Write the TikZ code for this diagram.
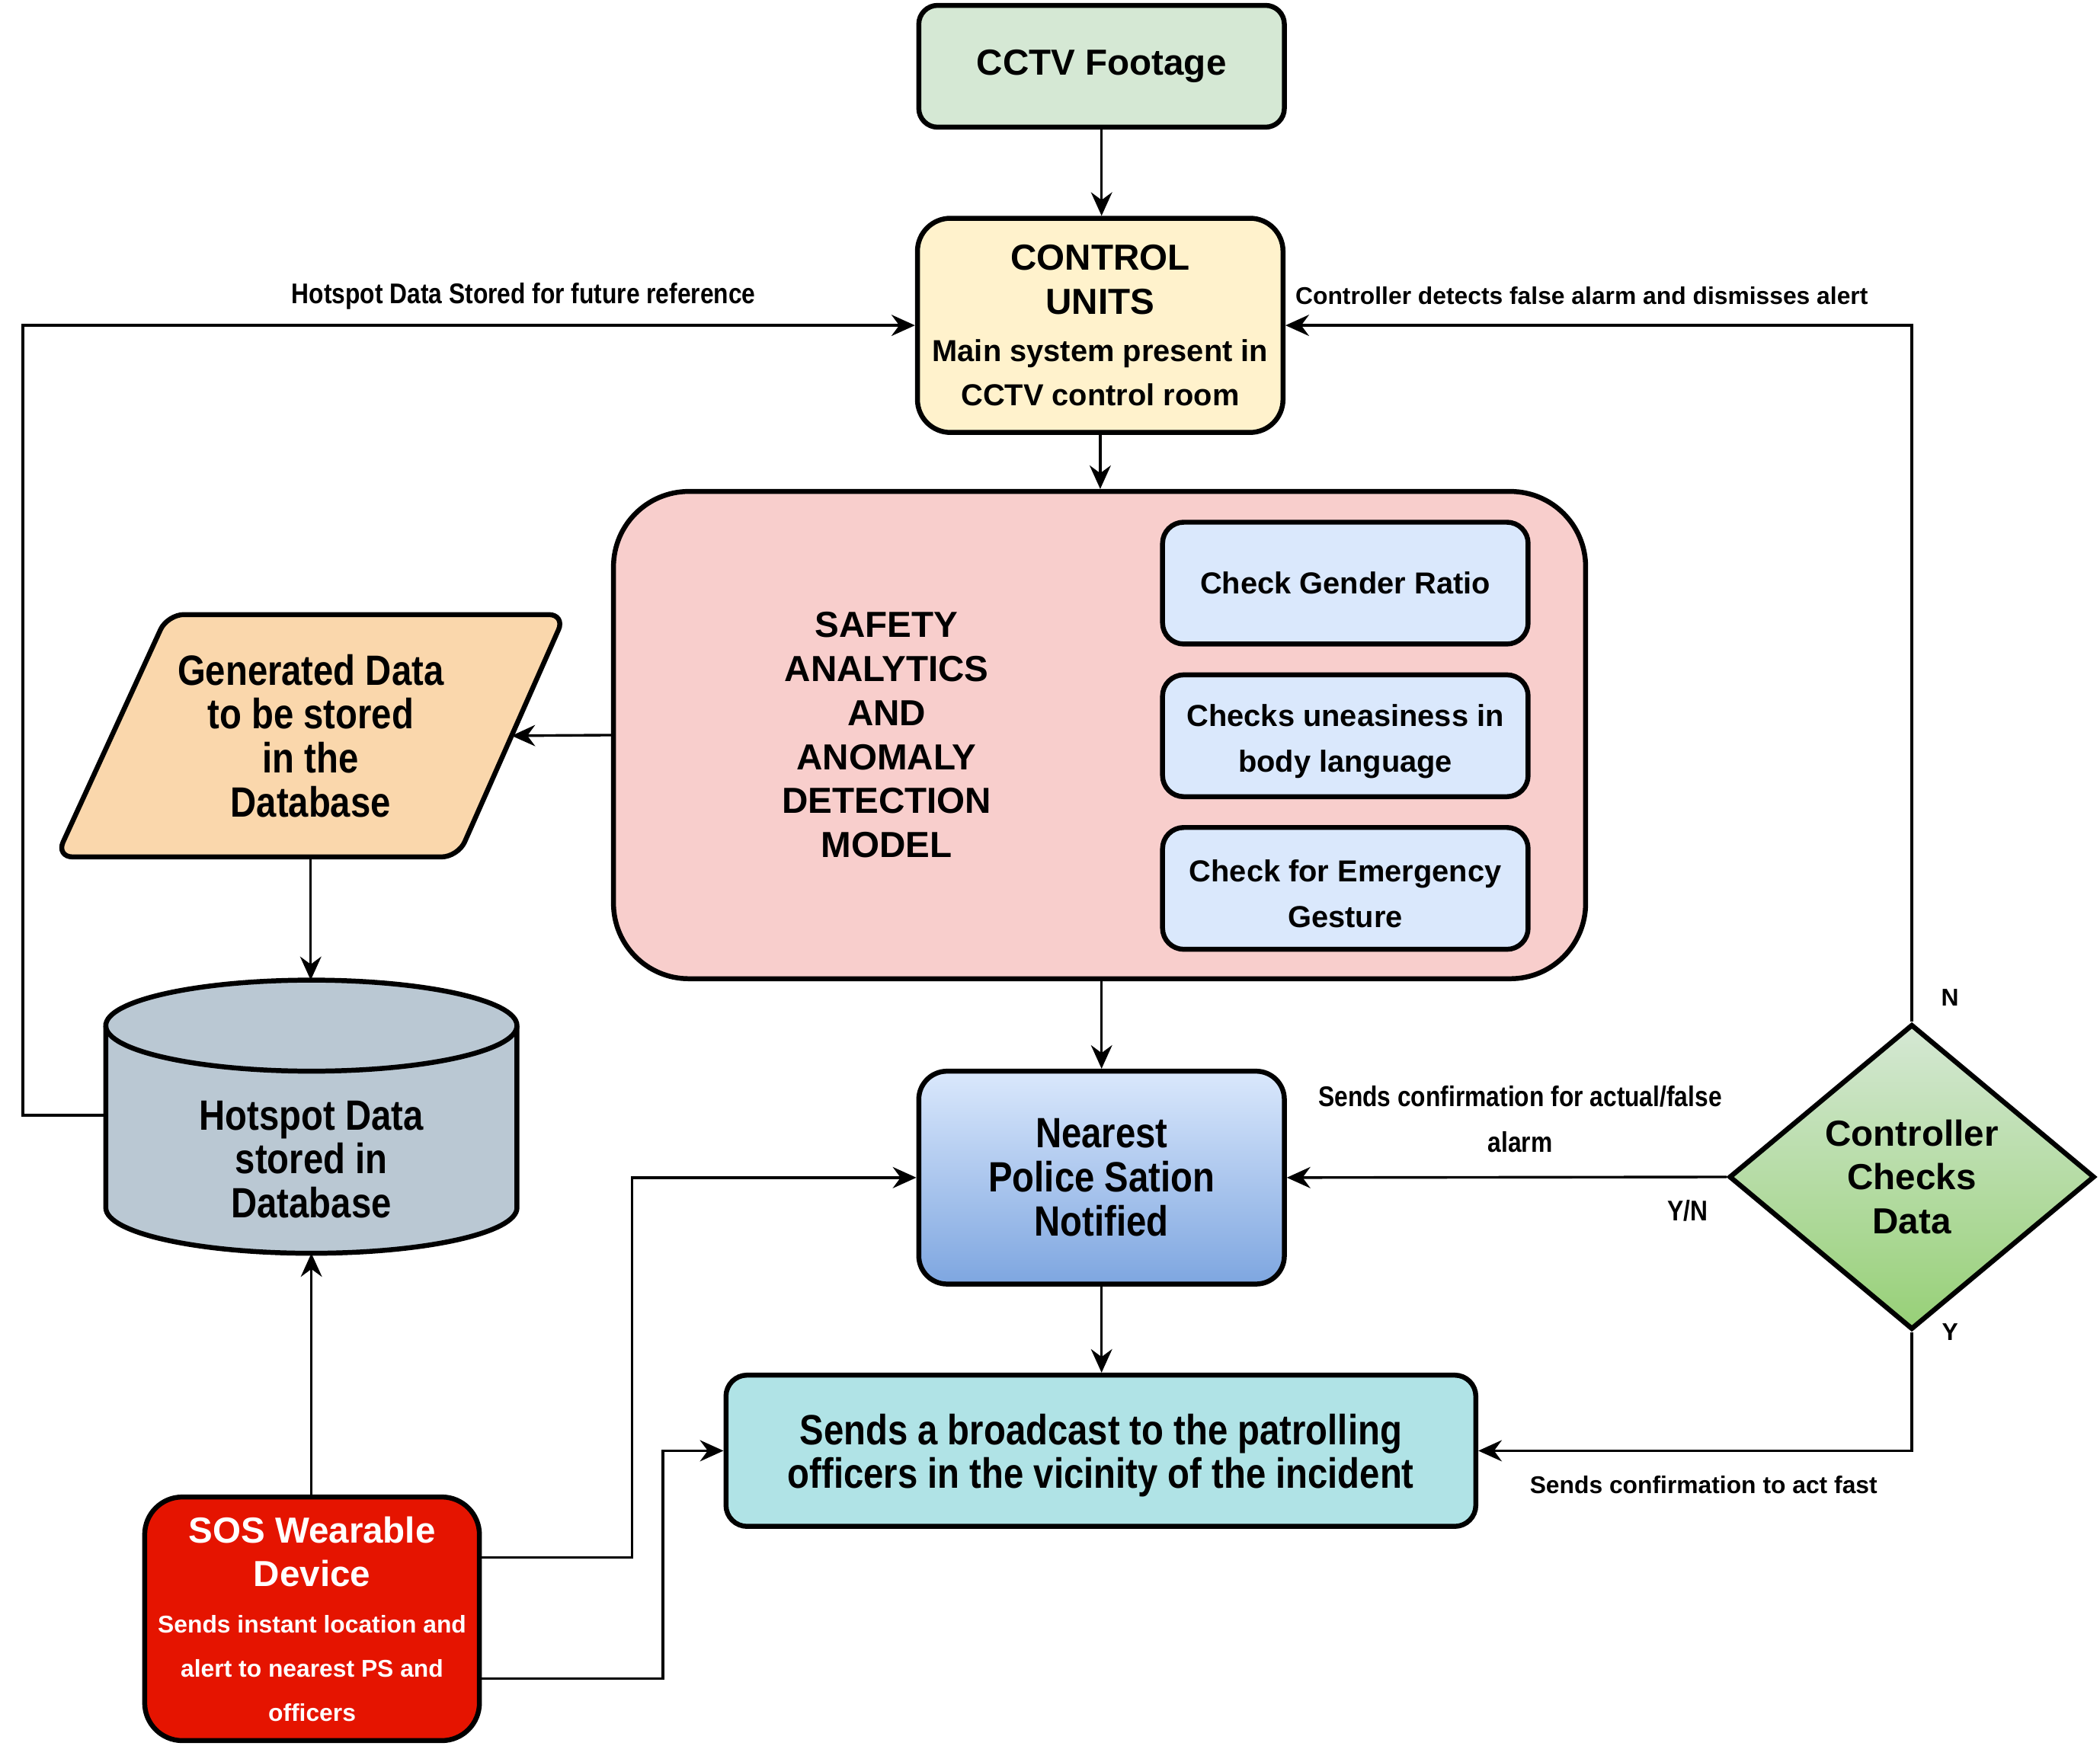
\documentclass[tikz,border=0pt]{standalone}
\usepackage{fontspec}
\setmainfont{Liberation Sans}
\newfontfamily\narrowfam{Liberation Sans}[FakeStretch=0.85]
\usetikzlibrary{arrows.meta,shapes.geometric}
\newcommand\FtBig{\bfseries\fontsize{15.4}{18.7}\selectfont}
\newcommand\FtNBig{\narrowfam\bfseries\fontsize{18}{18.7}\selectfont}
\newcommand\FtMed{\bfseries\fontsize{12.9}{19.3}\selectfont}
\newcommand\FtSmall{\bfseries\fontsize{10.3}{18.7}\selectfont}
\newcommand\FtNSmall{\narrowfam\bfseries\fontsize{12.1}{19.3}\selectfont}
\newcommand\DownStrut{\rule{0pt}{14pt}}
\definecolor{cctvc}{HTML}{D5E8D4}
\definecolor{ctrlc}{HTML}{FFF2CC}
\definecolor{safec}{HTML}{F8CECC}
\definecolor{chkc}{HTML}{DAE8FC}
\definecolor{gdc}{HTML}{FAD7AC}
\definecolor{cylc}{HTML}{BAC8D3}
\definecolor{neartop}{HTML}{DAE8FC}
\definecolor{nearbot}{HTML}{7EA6E0}
\definecolor{bcc}{HTML}{B0E3E6}
\definecolor{sosc}{HTML}{E51400}
\definecolor{diatop}{HTML}{D5E8D4}
\definecolor{diabot}{HTML}{97D077}
\tikzset{
  box/.style={draw, line width=2.1pt, align=center, inner sep=0pt, text=black},
  arr/.style={line width=1.1pt, -{Stealth[length=10pt,width=9pt,inset=3.3pt]}},
  lbl/.style={align=center, inner sep=0pt, text=black},
}
\begin{document}
\begin{tikzpicture}[x=0.02cm,y=0.02cm]
\useasboundingbox (0,0) rectangle (1568,-1304);

% boxes
\node[box, fill=cctvc, rounded corners=8pt, minimum width=5.46cm, minimum height=1.82cm, font=\FtBig] (cctv) at (822.5,-49.5) {CCTV Footage};
\node[box, fill=ctrlc, rounded corners=14pt, minimum width=5.46cm, minimum height=3.2cm, font=\FtBig] (ctrl) at (821.5,-243)
  {CONTROL\\UNITS\\[1.5pt]\FtMed Main system present in\\\FtMed CCTV control room};
\node[box, fill=safec, rounded corners=32pt, minimum width=14.52cm, minimum height=7.28cm] (safety) at (821,-549) {};
\node[lbl, font=\FtBig] (safetytxt) at (662,-549) {SAFETY\\ANALYTICS\\AND\\ANOMALY\\DETECTION\\MODEL};
\node[box, fill=chkc, rounded corners=9pt, minimum width=5.46cm, minimum height=1.82cm, font=\FtMed] (chk1) at (1004.5,-435.5) {Check Gender Ratio};
\node[box, fill=chkc, rounded corners=9pt, minimum width=5.46cm, minimum height=1.82cm, font=\FtMed] (chk2) at (1004.5,-549.5) {\DownStrut Checks uneasiness in\\body language};
\node[box, fill=chkc, rounded corners=9pt, minimum width=5.46cm, minimum height=1.82cm, font=\FtMed] (chk3) at (1004.5,-663.5) {\DownStrut Check for Emergency\\Gesture};

% parallelogram
\draw[line width=2.1pt, fill=gdc, rounded corners=7pt] (125,-459) -- (422,-459) -- (342,-640) -- (42,-640) -- cycle;
\node[lbl, font=\FtNBig] (gd) at (232,-549.5) {Generated Data\\to be stored\\in the\\Database};
\coordinate (gdE) at (382,-549.5);
\coordinate (gdS) at (232,-640);

% cylinder
\draw[line width=2.1pt, fill=cylc] (79,-766) -- (79,-902) arc[start angle=180, end angle=360, x radius=153.5, y radius=34]
  -- (386,-766) arc[start angle=0, end angle=180, x radius=153.5, y radius=34] -- cycle;
\draw[line width=2.1pt] (79,-766) arc[start angle=180, end angle=360, x radius=153.5, y radius=34];
\node[lbl, font=\FtNBig] (hot) at (232.5,-866) {Hotspot Data\\stored in\\Database};
\coordinate (hottop) at (232,-732);
\coordinate (hotbot) at (232.5,-936);
\coordinate (hotleft) at (79,-833);

\node[box, top color=neartop, bottom color=nearbot, rounded corners=12pt, minimum width=5.46cm, minimum height=3.18cm, font=\FtNBig] (near) at (822.5,-879.5)
  {Nearest\\Police Sation\\Notified};
\node[box, fill=bcc, rounded corners=9pt, minimum width=11.2cm, minimum height=2.26cm, font=\FtNBig] (bcast) at (822,-1083.5)
  {\rule{0pt}{17pt}Sends a broadcast to the patrolling\\officers in the vicinity of the incident};
\node[box, fill=sosc, text=white, rounded corners=16pt, minimum width=5cm, minimum height=3.64cm, font=\FtBig] (sos) at (233,-1209)
  {SOS Wearable\\Device\\[1pt]\FtSmall Sends instant location and\\\FtSmall alert to nearest PS and\\\FtSmall officers};
\node[box, diamond, top color=diatop, bottom color=diabot, minimum width=5.46cm, minimum height=4.56cm, font=\FtBig] (dia) at (1427.5,-879)
  {Controller\\Checks\\Data};

% labels
\node[lbl, font=\FtNSmall] (l1) at (391,-221) {Hotspot Data Stored for future reference};
\node[lbl, font=\FtSmall] (l2) at (1181,-221) {Controller detects false alarm and dismisses alert};
\node[lbl, font=\FtSmall] (lN) at (1456,-745) {N};
\node[lbl, font=\FtNSmall] (l3) at (1135,-836) {Sends confirmation for actual/false\\alarm};
\node[lbl, font=\FtNSmall] (lYN) at (1260,-904) {Y/N};
\node[lbl, font=\FtSmall] (lY) at (1456,-995) {Y};
\node[lbl, font=\FtSmall] (l4) at (1272,-1109) {Sends confirmation to act fast};

% connectors
\draw[arr] (cctv.south) -- (cctv.south |- ctrl.north);
\draw[arr] (ctrl.south) -- (ctrl.south |- safety.north);
\draw[arr] (safety.west) -- (gdE);
\draw[arr] (gdS) -- (hottop);
\draw[arr] (hotleft) -- ++(-62,0) |- (ctrl.west);
\draw[arr] (near.north |- safety.south) -- (near.north);
\draw[arr] (near.south) -- (near.south |- bcast.north);
\draw[arr] (dia.west) -- (near.east);
\draw[arr] (dia.north) |- (ctrl.east);
\draw[arr] (dia.south) |- (bcast.east);
\draw[arr] (sos.north -| hotbot) -- (hotbot);
\draw[arr] ([yshift=26pt]sos.east) -| (472,-1000) |- (near.west);
\draw[arr] ([yshift=-25.5pt]sos.east) -| (495,-1150) |- (bcast.west);
\end{tikzpicture}
\end{document}
